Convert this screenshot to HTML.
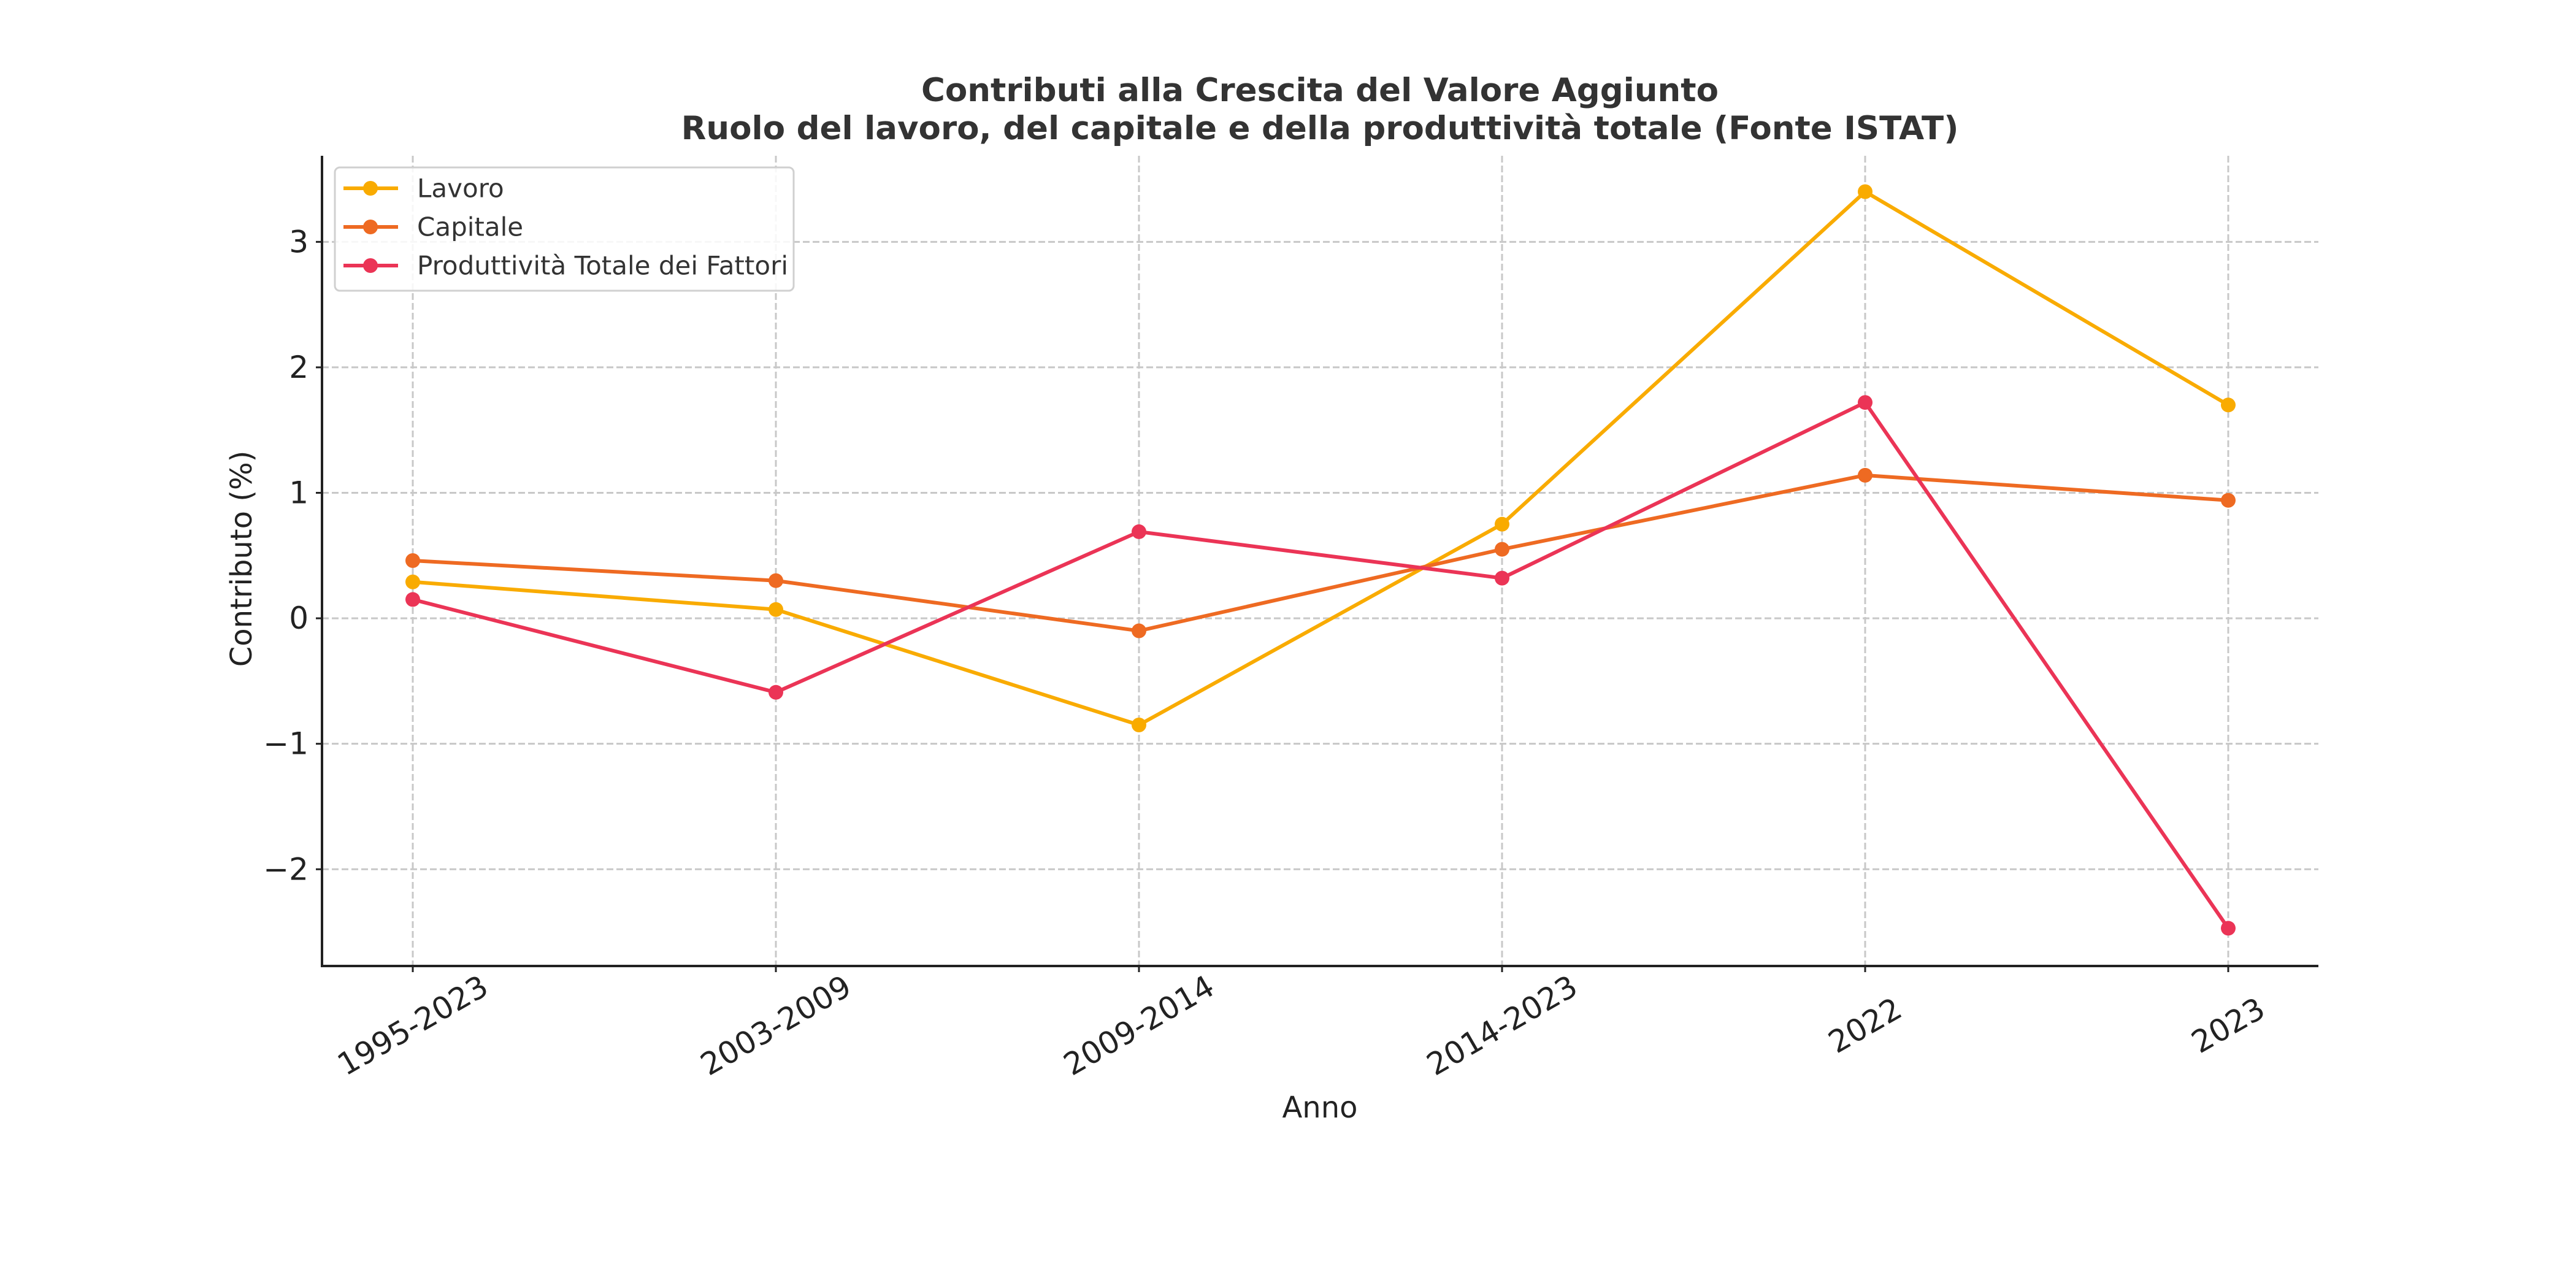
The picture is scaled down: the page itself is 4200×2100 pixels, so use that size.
<!DOCTYPE html>
<html><head><meta charset="utf-8"><style>
html,body{margin:0;padding:0;background:#fff;}
svg{display:block;font-family:"DejaVu Sans","Liberation Sans",sans-serif;}
</style></head><body>
<svg id="chart" width="4200" height="2100" viewBox="0 0 4200 2100">
<rect width="4200" height="2100" fill="#fff"/>
<g id="grid"></g>
<g id="axes"></g>
<g id="series"></g>
<text x="2152" y="165" text-anchor="middle" font-size="53" font-weight="bold" fill="#333">Contributi alla Crescita del Valore Aggiunto</text>
<text x="2152" y="227" text-anchor="middle" font-size="53" font-weight="bold" fill="#333">Ruolo del lavoro, del capitale e della produttività totale (Fonte ISTAT)</text>
<text x="2152" y="1822" text-anchor="middle" font-size="48" fill="#222">Anno</text>
<text transform="translate(410,911) rotate(-90)" text-anchor="middle" font-size="48" fill="#222">Contributo (%)</text>
<g id="legend"></g>
</svg>
<script>
const categories = ["1995-2023","2003-2009","2009-2014","2014-2023","2022","2023"];
const lavoro = [0.29, 0.07, -0.85, 0.75, 3.40, 1.70];
const capitale = [0.46, 0.30, -0.10, 0.55, 1.14, 0.94];
const ptf = [0.15, -0.59, 0.69, 0.32, 1.72, -2.47];
const seriesNames = ["Lavoro","Capitale","Produttività Totale dei Fattori"];
const yTicks = [-2, -1, 0, 1, 2, 3];
const yTickLabels = ["\u22122","\u22121","0","1","2","3"];

const NS = "http://www.w3.org/2000/svg";
const L = 525, R = 3780, T = 254, B = 1575;
const yMin = -2.771, yMax = 3.686;
const x = i => 673 + i * (3633 - 673) / (categories.length - 1);
const y = v => B - (v - yMin) / (yMax - yMin) * (B - T);
function mk(tag, attrs, parent) {
  const e = document.createElementNS(NS, tag);
  for (const k in attrs) e.setAttribute(k, attrs[k]);
  parent.appendChild(e);
  return e;
}
const grid = document.getElementById("grid");
const axes = document.getElementById("axes");
const series = document.getElementById("series");
const legend = document.getElementById("legend");

yTicks.forEach((t, i) => {
  const g = mk("line", {x1: L, x2: R, y1: y(t), y2: y(t), stroke: "#c8c8c8", "stroke-width": 3, "stroke-dasharray": "11,5"}, grid);
  
  
  const tk = mk("line", {x1: L - 10, x2: L, y1: y(t), y2: y(t), stroke: "#222", "stroke-width": 3}, axes);
  
  
  const lb = mk("text", {x: L - 22, y: y(t), "text-anchor": "end", "dominant-baseline": "central", "font-size": 50, fill: "#222"}, axes);
  
  
  lb.textContent = yTickLabels[i];
});
categories.forEach((c, i) => {
  const g = mk("line", {x1: x(i), x2: x(i), y1: T, y2: B, stroke: "#c8c8c8", "stroke-width": 3, "stroke-dasharray": "11,5"}, grid);
  
  
  const tk = mk("line", {x1: x(i), x2: x(i), y1: B, y2: B + 10, stroke: "#222", "stroke-width": 3}, axes);
  
  
  const lb = mk("text", {transform: `translate(${x(i)},1672) rotate(-30)`, "text-anchor": "middle", "dominant-baseline": "central", "font-size": 50, fill: "#222"}, axes);
  
  
  lb.textContent = c;
});
const la = mk("line", {x1: L, x2: L, y1: T, y2: B, stroke: "#222", "stroke-width": 4}, axes);


const ba = mk("line", {x1: L - 2, x2: R, y1: B, y2: B, stroke: "#222", "stroke-width": 4}, axes);



const data = [lavoro, capitale, ptf];
const colors = ["#f9ab00", "#ee6a22", "#eb3456"];
const keys = ["lavoro", "capitale", "ptf"];
data.forEach((vals, s) => {
  const pl = mk("polyline", {points: vals.map((v, i) => x(i) + "," + y(v)).join(" "), fill: "none", stroke: colors[s], "stroke-width": 6, "stroke-linejoin": "round"}, series);
  
  
  vals.forEach((v, i) => {
    const c = mk("circle", {cx: x(i), cy: y(v), r: 12, fill: colors[s]}, series);
    
    
  });
});

const box = mk("rect", {x: 546, y: 273, width: 748, height: 201, rx: 8, fill: "#fff", "fill-opacity": 0.85, stroke: "#d0d0d0", "stroke-width": 3}, legend);


seriesNames.forEach((n, s) => {
  const ly = 307 + s * 63;
  const ln = mk("line", {x1: 560, x2: 649, y1: ly, y2: ly, stroke: colors[s], "stroke-width": 6}, legend);
  
  
  const c = mk("circle", {cx: 604, cy: ly, r: 12, fill: colors[s]}, legend);
  
  
  const t = mk("text", {x: 680, y: ly, "dominant-baseline": "central", "font-size": 42, fill: "#333"}, legend);
  
  
  t.textContent = n;
});
</script>
</body></html>
